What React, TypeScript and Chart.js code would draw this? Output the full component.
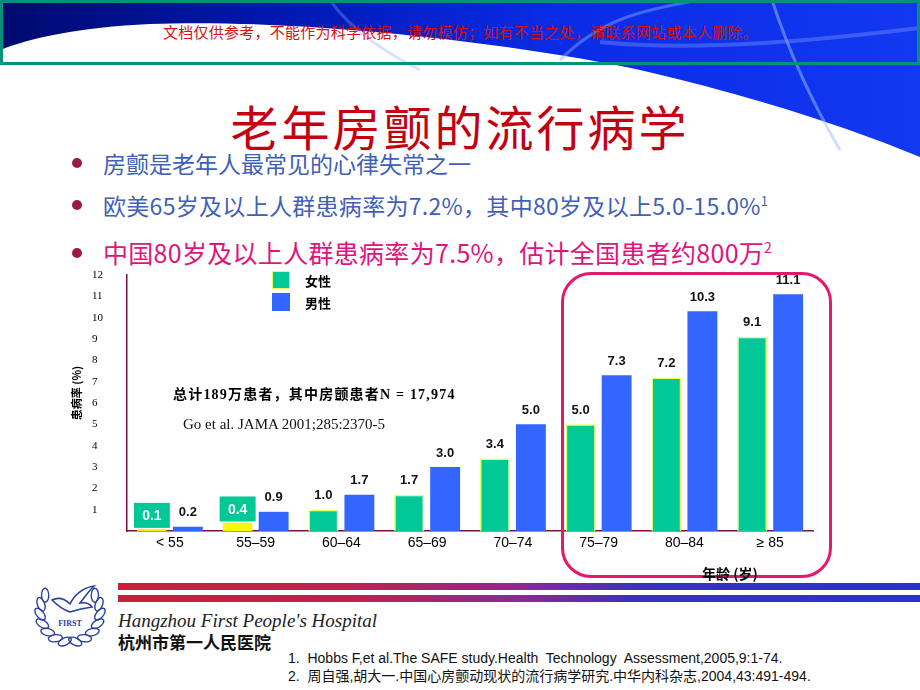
import React, { useEffect, useRef } from "react";
import { Chart, registerables } from "chart.js";

Chart.register(...registerables);

const categories = ["< 55", "55–59", "60–64", "65–69", "70–74", "75–79", "80–84", "≥ 85"];
const femaleValues = [0.1, 0.4, 1.0, 1.7, 3.4, 5.0, 7.2, 9.1];
const maleValues = [0.2, 0.9, 1.7, 3.0, 5.0, 7.3, 10.3, 11.1];
const seriesNames = ["女性", "男性"];
const yMin = 0;
const yMax = 12;

const GREEN = "#00C896";
const BLUE = "#3366FF";
const AXIS = "#7A1040";

const CANVAS_TOP = 258;
const CANVAS_H = 302;

const barLabelPlugin = {
  id: "barLabels",
  afterDatasetsDraw(chart: any) {
    const ctx = chart.ctx;
    chart.data.datasets.forEach((ds: any, di: number) => {
      const meta = chart.getDatasetMeta(di);
      meta.data.forEach((el: any, i: number) => {
        const v = ds.data[i] as number;
        const txt = v.toFixed(1);
        ctx.save();
        ctx.textAlign = "center";
        ctx.textBaseline = "middle";
        if (di === 0 && i < 2) {
          const bw = 36;
          const bh = 25;
          const bx = el.x - bw / 2;
          const by = el.y - bh - 1;
          ctx.fillStyle = GREEN;
          ctx.fillRect(bx, by, bw, bh);
          ctx.fillStyle = "#ffffff";
          ctx.font = "bold 14px Arial, 'Liberation Sans', sans-serif";
          ctx.fillText(txt, bx + bw / 2, by + bh / 2 + 1);
        } else {
          ctx.fillStyle = "#111111";
          ctx.font = "bold 13px Arial, 'Liberation Sans', sans-serif";
          ctx.fillText(txt, el.x, el.y - 14);
        }
        ctx.restore();
      });
    });
  },
};

function Logo() {
  const leaves: JSX.Element[] = [];
  const cx = 70;
  const cy = 612;
  const r = 30;
  for (let k = 0; k < 7; k++) {
    const a = 100 + k * 19;
    const rad = (a * Math.PI) / 180;
    const lx = cx + r * Math.cos(rad);
    const ly = cy + r * Math.sin(rad);
    const rx = cx - (lx - cx);
    leaves.push(
      <ellipse key={"l" + k} cx={lx} cy={ly} rx={7} ry={3.6} transform={`rotate(${a + 90 - 35} ${lx} ${ly})`} fill="none" stroke="#2B3F9E" strokeWidth={1.4} />
    );
    leaves.push(
      <ellipse key={"r" + k} cx={rx} cy={ly} rx={7} ry={3.6} transform={`rotate(${-(a + 90 - 35)} ${rx} ${ly})`} fill="none" stroke="#2B3F9E" strokeWidth={1.4} />
    );
  }
  return (
    <g>
      {leaves}
      <path d="M52,600 C60,596 66,600 70,604 C74,596 82,588 94,586 C88,592 84,598 80,603 C86,602 90,604 92,607 C84,608 76,610 70,612 C64,610 58,606 52,600 Z" fill="none" stroke="#2B3F9E" strokeWidth={1.6} />
      <text x={70} y={626} textAnchor="middle" fontFamily="'Liberation Serif', serif" fontWeight="bold" fontSize={8} fill="#2B3F9E">FIRST</text>
    </g>
  );
}

export default function App() {
  const canvasRef = useRef<HTMLCanvasElement>(null);

  useEffect(() => {
    if (!canvasRef.current) return;
    const chart = new Chart(canvasRef.current, {
      type: "bar",
      data: {
        labels: categories,
        datasets: [
          {
            label: seriesNames[0],
            data: femaleValues,
            backgroundColor: (c: any) => (c.dataIndex < 2 ? "#F8F800" : GREEN),
            borderColor: (c: any) => (c.dataIndex < 2 ? "#F8F800" : "#E6FF66"),
            borderWidth: 1.5,
            barPercentage: 0.83,
            categoryPercentage: 0.84,
          },
          {
            label: seriesNames[1],
            data: maleValues,
            backgroundColor: BLUE,
            borderWidth: 0,
            barPercentage: 0.83,
            categoryPercentage: 0.84,
          },
        ],
      },
      options: {
        responsive: false,
        animation: false,
        devicePixelRatio: 1,
        layout: { padding: { left: 32, right: 27, top: 17, bottom: 0 } },
        plugins: { legend: { display: false }, tooltip: { enabled: false } },
        scales: {
          x: {
            offset: true,
            grid: { display: false, drawTicks: false },
            border: { display: true, color: AXIS, width: 1.5 },
            ticks: {
              color: "#000",
              font: { family: "Arial, 'Liberation Sans', sans-serif", size: 14 },
              padding: 4,
              maxRotation: 0,
              autoSkip: false,
            },
            afterFit: (s: any) => {
              s.height = 29;
            },
          },
          y: {
            min: yMin,
            max: yMax,
            grid: { display: false, drawTicks: false },
            border: { display: true, color: AXIS, width: 1.5 },
            ticks: {
              stepSize: 1,
              color: "#000",
              font: { family: "'Liberation Serif', 'Times New Roman', serif", size: 11 },
              padding: 0,
              crossAlign: "far",
              callback: (v: any) => (Number(v) === 0 ? "" : String(v)),
            },
            afterFit: (s: any) => {
              s.width = 35;
            },
          },
        },
      } as any,
      plugins: [barLabelPlugin],
    });
    return () => chart.destroy();
  }, []);

  const abs = (left: number, cy: number, size: number, extra: React.CSSProperties = {}): React.CSSProperties => ({
    position: "absolute",
    left,
    top: cy - size / 2,
    fontSize: size,
    lineHeight: `${size}px`,
    whiteSpace: "nowrap",
    ...extra,
  });

  const bullet = (cy: number): React.CSSProperties => ({
    position: "absolute",
    left: 72,
    top: cy - 5,
    width: 10,
    height: 10,
    borderRadius: "50%",
    background: "#9B1B3F",
  });

  const stripe =
    "linear-gradient(to right, #C8203A 0%, #C02050 30%, #8A2A90 50%, #3A30C0 65%, #2A30D0 100%)";

  return (
    <div
      style={{
        position: "fixed",
        left: 0,
        top: 0,
        width: 920,
        height: 690,
        background: "#ffffff",
        overflow: "hidden",
        fontFamily: "'Noto Sans CJK SC', sans-serif",
      }}
    >
      <svg width={920} height={690} style={{ position: "absolute", left: 0, top: 0 }}>
        <defs>
          <linearGradient id="bannerGrad" x1="0" y1="0" x2="1" y2="0">
            <stop offset="0" stopColor="#000A6E" />
            <stop offset="0.3" stopColor="#0018B0" />
            <stop offset="0.6" stopColor="#0A2BE6" />
            <stop offset="1" stopColor="#1238F0" />
          </linearGradient>
        </defs>
        <path
          d="M0,0 H920 V157 C850,128 760,98 640,70 C520,44 300,18 150,24 C80,27 30,38 0,50 Z"
          fill="url(#bannerGrad)"
        />
        <path d="M560,60 C600,20 640,10 700,0" fill="none" stroke="rgba(140,170,255,0.45)" strokeWidth={3} />
        <path d="M772,0 C785,40 805,90 840,150" fill="none" stroke="rgba(160,190,255,0.5)" strokeWidth={3} />
        <path d="M600,42 C700,52 820,40 920,28" fill="none" stroke="rgba(140,170,255,0.35)" strokeWidth={4} />
        <path d="M330,0 C350,30 390,55 420,70" fill="none" stroke="rgba(140,170,255,0.35)" strokeWidth={3} />
        <rect x={1.5} y={1.5} width={917} height={62} fill="none" stroke="#00927A" strokeWidth={3} />
        <Logo />
      </svg>

      <div style={abs(163, 31, 15, { color: "#D41010", letterSpacing: 0.25 })}>
        文档仅供参考，不能作为科学依据，请勿模仿；如有不当之处，请联系网站或本人删除。
      </div>

      <div style={abs(0, 125, 48, { width: 920, textAlign: "center", color: "#C40010", letterSpacing: 3 })}>
        老年房颤的流行病学
      </div>

      <div style={bullet(163)} />
      <div style={abs(103, 163, 23, { color: "#3F5FB8" })}>房颤是老年人最常见的心律失常之一</div>
      <div style={bullet(205)} />
      <div style={abs(103, 205, 23, { color: "#3F5FB8", letterSpacing: 0.3 })}>
        欧美65岁及以上人群患病率为7.2%，其中80岁及以上5.0-15.0%
        <sup style={{ fontSize: 13, verticalAlign: "top", lineHeight: "13px" }}>1</sup>
      </div>
      <div style={bullet(253)} />
      <div style={abs(103, 252, 25, { color: "#E0147A", letterSpacing: 0.3 })}>
        中国80岁及以上人群患病率为7.5%，估计全国患者约800万
        <sup style={{ fontSize: 14, verticalAlign: "top", lineHeight: "14px" }}>2</sup>
      </div>

      <canvas
        ref={canvasRef}
        width={780}
        height={CANVAS_H}
        style={{ position: "absolute", left: 60, top: CANVAS_TOP, width: 780, height: CANVAS_H }}
      />

      <div
        style={{
          position: "absolute",
          left: 561,
          top: 272,
          width: 271,
          height: 306,
          border: "3px solid #E3196E",
          borderRadius: 30,
          boxSizing: "border-box",
        }}
      />

      <div style={{ position: "absolute", left: 272, top: 271, width: 18, height: 18, background: GREEN, border: "1.5px solid #E6FF66", boxSizing: "border-box" }} />
      <div style={abs(305, 280, 13, { fontWeight: "bold", color: "#000" })}>{seriesNames[0]}</div>
      <div style={{ position: "absolute", left: 272, top: 293, width: 18, height: 18, background: BLUE }} />
      <div style={abs(305, 302, 13, { fontWeight: "bold", color: "#000" })}>{seriesNames[1]}</div>

      <div
        style={abs(173, 395, 14, {
          fontWeight: "bold",
          color: "#000",
          fontFamily: "'Liberation Serif', 'Noto Sans CJK SC', serif",
          letterSpacing: 1.2,
        })}
      >
        总计189万患者，其中房颤患者N = 17,974
      </div>
      <div style={abs(183, 424, 15, { color: "#111", fontFamily: "'Liberation Serif', serif" })}>
        Go et al. JAMA 2001;285:2370-5
      </div>

      <div
        style={{
          position: "absolute",
          left: 76 - 40,
          top: 393 - 6,
          width: 80,
          height: 12,
          fontSize: 11,
          lineHeight: "12px",
          fontWeight: "bold",
          textAlign: "center",
          transform: "rotate(-90deg)",
          whiteSpace: "nowrap",
          color: "#000",
        }}
      >
        患病率 (%)
      </div>

      <div style={abs(702, 573, 14, { fontWeight: "bold", color: "#000" })}>年龄 (岁)</div>

      <div style={{ position: "absolute", left: 118, top: 583, width: 802, height: 7, background: stripe }} />
      <div style={{ position: "absolute", left: 118, top: 595, width: 802, height: 7, background: stripe }} />

      <div style={abs(118, 620, 19, { fontStyle: "italic", color: "#222", fontFamily: "'Liberation Serif', serif" })}>
        Hangzhou First People's Hospital
      </div>
      <div style={abs(118, 641, 17, { fontWeight: "bold", color: "#111" })}>杭州市第一人民医院</div>

      <div style={abs(288, 658, 14, { color: "#111", fontFamily: "Arial, 'Liberation Sans', 'Noto Sans CJK SC', sans-serif" })}>
        1.&nbsp;&nbsp;Hobbs F,et al.The SAFE study.Health&nbsp; Technology&nbsp; Assessment,2005,9:1-74.
      </div>
      <div style={abs(288, 676, 14, { color: "#111", fontFamily: "Arial, 'Liberation Sans', 'Noto Sans CJK SC', sans-serif" })}>
        2.&nbsp;&nbsp;周自强,胡大一.中国心房颤动现状的流行病学研究.中华内科杂志,2004,43:491-494.
      </div>
    </div>
  );
}
